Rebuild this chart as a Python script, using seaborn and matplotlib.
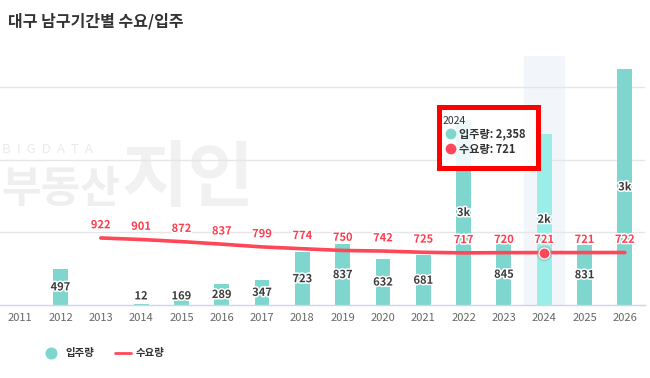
import seaborn as sns
import pandas as pd
import matplotlib.pyplot as plt
import matplotlib.patheffects as PathEffects
from matplotlib.lines import Line2D
from matplotlib.patches import Rectangle

#-----------------------------------------------------------------------------------------------------------------------
"""Data"""
years = list(range(2011, 2027))

# 입주량 (supply) - 2011 and 2013 have no bar
supply_years = [2012, 2014, 2015, 2016, 2017, 2018, 2019, 2020, 2021, 2022, 2023, 2024, 2025, 2026]
supply = [497, 12, 169, 289, 347, 723, 837, 632, 681, 2545, 845, 2358, 831, 3250]

# 수요량 (demand) - starts in 2013
demand_years = [2013, 2014, 2015, 2016, 2017, 2018, 2019, 2020, 2021, 2022, 2023, 2024, 2025, 2026]
demand = [922, 901, 872, 837, 799, 774, 750, 742, 725, 717, 720, 721, 721, 722]

hover_year = 2024
tooltip_supply = "2,358"
tooltip_demand = "721"

df_supply = pd.DataFrame({'year': supply_years, 'supply': supply})
df_demand = pd.DataFrame({'year': demand_years, 'demand': demand})

#-----------------------------------------------------------------------------------------------------------------------
"""Style"""
sns.set_style("white")
plt.rcParams['font.family'] = ['Noto Sans CJK KR', 'DejaVu Sans']

TEAL = '#7fd6cf'
TEAL_HOVER = '#9beee8'
RED = '#ff4757'
LABEL_RED = '#ff3b4e'
W, H = 650, 378

def fx(px):
    return px / W

def fy(py):
    return 1 - py / H

fig = plt.figure(figsize=(6.5, 3.78), dpi=100)
fig.patch.set_facecolor('white')
ax = fig.add_axes([0, fy(305), fx(645), (305 - 56) / H])
ax.patch.set_alpha(0)

#-----------------------------------------------------------------------------------------------------------------------
"""Watermark"""
wm = '#efefef'
fig.text(fx(2), fy(150), "B  I  G  D  A  T  A", fontsize=9.5, color='#ebebeb', va='center', ha='left', zorder=-1)
fig.text(fx(1), fy(189), "부동산", fontsize=31, fontweight='bold', color=wm, va='center', ha='left', zorder=-1)
fig.text(fx(122), fy(180), "지인", fontsize=52, fontweight='bold', color='#f1f1f1', va='center', ha='left', zorder=-1)

#-----------------------------------------------------------------------------------------------------------------------
"""Plotting"""
ax.axvspan(hover_year - 0.5, hover_year + 0.5, color='#f2f5fa', zorder=0)
for g in [1000, 2000, 3000]:
    ax.axhline(g, color='#e6e6e6', lw=1, zorder=0.5)

sns.barplot(data=df_supply, x='year', y='supply', native_scale=True, width=0.37,
            color=TEAL, saturation=1, ax=ax, zorder=2)
for bar, yr in zip(ax.containers[0], supply_years):
    if yr == hover_year:
        bar.set_facecolor(TEAL_HOVER)
    bar.set_edgecolor('none')

sns.lineplot(data=df_demand, x='year', y='demand', color=RED, linewidth=2.6, ax=ax, zorder=3)

# hover marker
hv = df_demand[df_demand['year'] == hover_year]
ax.scatter(hv['year'], hv['demand'], s=130, color='#999999', alpha=0.35, zorder=4, linewidths=0)
ax.scatter(hv['year'], hv['demand'], s=62, color=RED, edgecolor='white', linewidths=0.8, zorder=5)

# bar labels
halo = [PathEffects.withStroke(linewidth=2.2, foreground='white')]
for yr, v in zip(supply_years, supply):
    txt = f"{round(v / 1000)}k" if v >= 1000 else str(v)
    ax.text(yr, max(v / 2, 125), txt, ha='center', va='center', fontsize=8, fontweight='bold',
            color='#3c3c3c', path_effects=halo, zorder=6)

# line labels
for yr, v in zip(demand_years, demand):
    ax.annotate(str(v), (yr, v), xytext=(0, 9.5), textcoords='offset points', ha='center', va='center',
                fontsize=8, fontweight='bold', color=LABEL_RED, path_effects=halo, zorder=6)

#-----------------------------------------------------------------------------------------------------------------------
"""Axes"""
ax.set_xlim(2010.5, 2026.5)
ax.set_ylim(0, 3425)
ax.set_xticks(years)
ax.set_xticklabels([str(y) for y in years])
ax.set_yticks([])
ax.set_xlabel('')
ax.set_ylabel('')
for s in ['top', 'right', 'left']:
    ax.spines[s].set_visible(False)
ax.spines['bottom'].set_color('#ccd6eb')
ax.spines['bottom'].set_linewidth(1)
ax.tick_params(axis='x', length=0, pad=6, labelsize=8, colors='#666666')

#-----------------------------------------------------------------------------------------------------------------------
"""Title, tooltip, legend"""
fig.text(fx(8), fy(21), "대구 남구기간별 수요/입주", fontsize=11.5, fontweight='bold', color='#333333',
         va='center', ha='left')

# tooltip box with red frame
fig.patches.append(Rectangle((fx(439.5), fy(167.5)), fx(98), (167.5 - 106.5) / H, transform=fig.transFigure,
                             facecolor=(1, 1, 1, 0.85), edgecolor='#ff0000', linewidth=3.6, zorder=10))
fig.text(fx(443), fy(121), str(hover_year), fontsize=7.5, color='#333333', va='center', ha='left', zorder=11)
tt = fig.add_axes([0, 0, 1, 1], zorder=11)
tt.set_axis_off()
tt.set_xlim(0, W)
tt.set_ylim(H, 0)
tt.scatter([451, 451], [134, 149], s=60, color=[TEAL, RED], linewidths=0)
tt.text(459, 134, f"입주량: {tooltip_supply}", fontsize=8, fontweight='bold', color='#333333', va='center', ha='left')
tt.text(459, 149, f"수요량: {tooltip_demand}", fontsize=8, fontweight='bold', color='#333333', va='center', ha='left')

# legend
tt.scatter([51], [353], s=75, color=TEAL, linewidths=0)
tt.text(65, 353, "입주량", fontsize=7.5, fontweight='bold', color='#333333', va='center', ha='left')
tt.add_line(Line2D([115, 131], [353, 353], color=RED, lw=2))
tt.text(136, 353, "수요량", fontsize=7.5, fontweight='bold', color='#333333', va='center', ha='left')

fig.savefig('out.png', dpi=100)
